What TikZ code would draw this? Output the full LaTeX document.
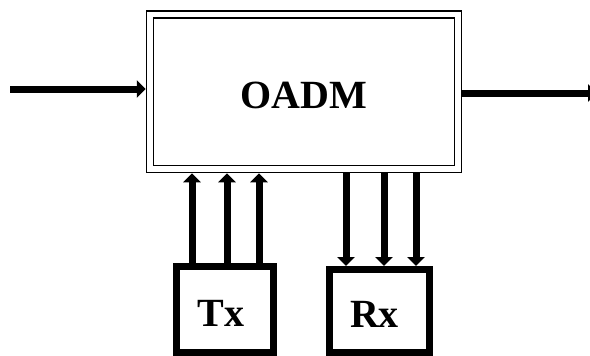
\documentclass[tikz,border=0pt]{standalone}
\usepackage{fontspec}
\setmainfont{Liberation Serif}
\usetikzlibrary{arrows.meta}

\begin{document}
\begin{tikzpicture}[x=1pt,y=-1pt,
  lbl/.style={font=\fontsize{40}{42}\selectfont\bfseries},
  arr/.style={line width=7pt,-{Triangle[width=17pt,length=9pt]}}]
 \useasboundingbox (0,0) rectangle (590,356);
 \node[draw, double, line width=1.5pt, double distance=5.5pt, outer sep=4.25pt,
       minimum width=308pt, minimum height=154.5pt, lbl] (oadm) at (304,91.75) {\raisebox{-4pt}[\height][\depth]{OADM}};
 \begin{scope}[every node/.style={draw, line width=7pt, lbl, inner sep=0pt}]
  \node[minimum width=97pt, minimum height=86pt] (tx) at (225,309.5) {\raisebox{-4pt}[\height][\depth]{Tx\kern8pt}};
  \node[minimum width=100pt, minimum height=83pt] (rx) at (379.5,311) {\raisebox{-3pt}[\height][\depth]{Rx\kern10pt}};
 \end{scope}
 \coordinate (in) at (10,89);
 \coordinate (out) at (597,93);
 \coordinate (t1) at (192,0);
 \coordinate (t2) at (227,0);
 \coordinate (t3) at (259,0);
 \coordinate (r1) at (346,0);
 \coordinate (r2) at (384,0);
 \coordinate (r3) at (416,0);
  \path [arr] (in) edge node {} (in -| oadm.west);
  \path [arr] (out -| oadm.east) edge node {} (out);
  \path [arr] (t1 |- tx.north) edge node {} (t1 |- oadm.south);
  \path [arr] (t2 |- tx.north) edge node {} (t2 |- oadm.south);
  \path [arr] (t3 |- tx.north) edge node {} (t3 |- oadm.south);
  \path [arr] (r1 |- oadm.south) edge node {} (r1 |- rx.north);
  \path [arr] (r2 |- oadm.south) edge node {} (r2 |- rx.north);
  \path [arr] (r3 |- oadm.south) edge node {} (r3 |- rx.north);
\end{tikzpicture}
\end{document}
